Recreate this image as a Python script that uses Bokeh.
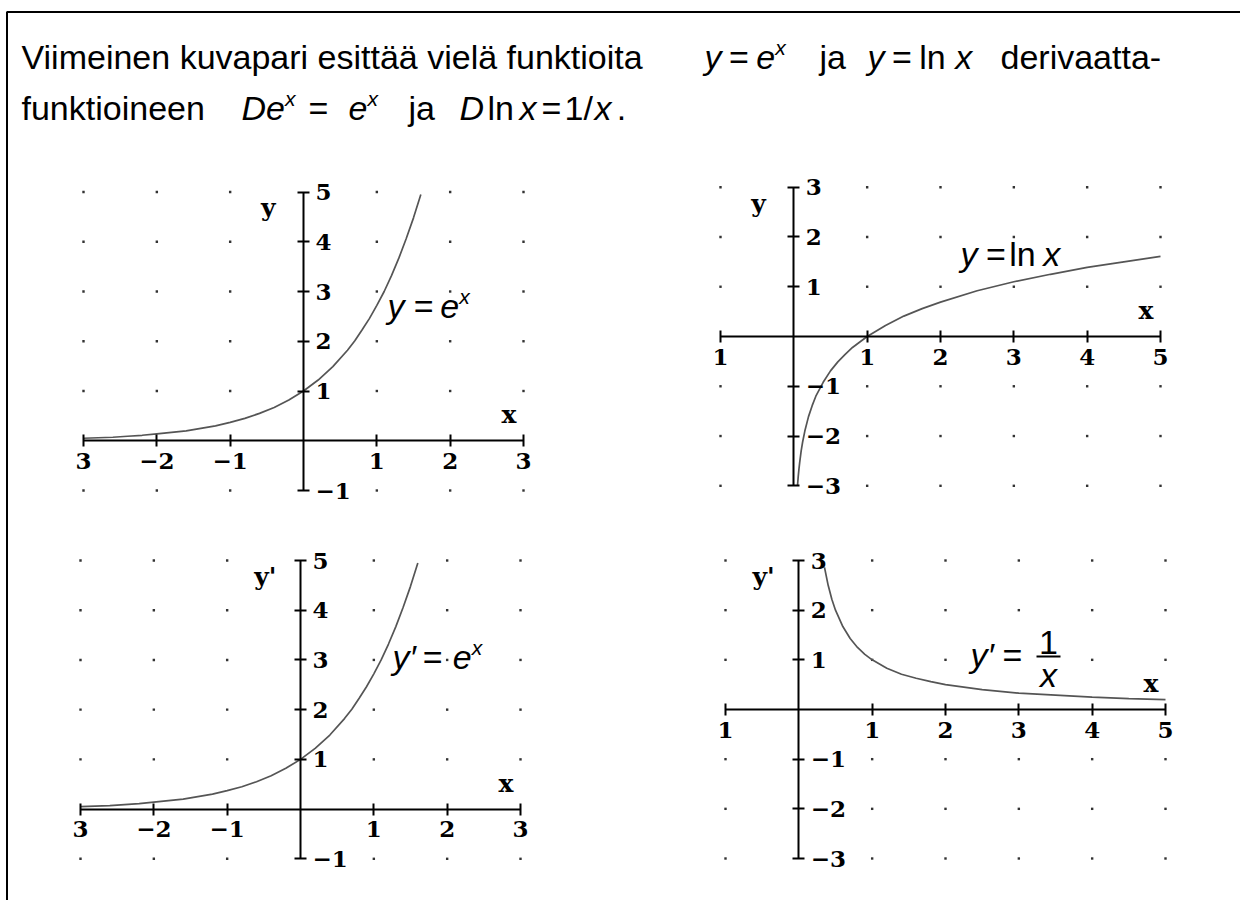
from bokeh.plotting import figure
from bokeh.models import Range1d, LinearAxis, FixedTicker, BoxAnnotation, Label
from bokeh.embed import file_html
from bokeh.resources import INLINE
from bokeh.core.properties import value

# ---------------- data ----------------
exp_x = [-3.0, -2.8, -2.6, -2.4, -2.2, -2.0, -1.8, -1.6, -1.4, -1.2, -1.0, -0.8,
         -0.6, -0.4, -0.2, 0.0, 0.2, 0.4, 0.6, 0.7, 0.8, 0.9, 1.0, 1.1, 1.2,
         1.3, 1.4, 1.5, 1.6]
exp_y = [0.05, 0.06, 0.07, 0.09, 0.11, 0.14, 0.17, 0.20, 0.25, 0.30, 0.37, 0.45,
         0.55, 0.67, 0.82, 1.00, 1.22, 1.49, 1.82, 2.01, 2.23, 2.46, 2.72, 3.00,
         3.32, 3.67, 4.06, 4.48, 4.95]

ln_x = [0.05, 0.06, 0.07, 0.08, 0.10, 0.12, 0.15, 0.20, 0.25, 0.30, 0.40, 0.50,
        0.60, 0.70, 0.80, 0.90, 1.00, 1.25, 1.50, 1.75, 2.00, 2.50, 3.00, 3.50,
        4.00, 4.50, 5.00]
ln_y = [-3.00, -2.81, -2.66, -2.53, -2.30, -2.12, -1.90, -1.61, -1.39, -1.20,
        -0.92, -0.69, -0.51, -0.36, -0.22, -0.11, 0.00, 0.22, 0.41, 0.56, 0.69,
        0.92, 1.10, 1.25, 1.39, 1.50, 1.61]

inv_x = [0.35, 0.40, 0.45, 0.50, 0.60, 0.70, 0.80, 0.90, 1.00, 1.20, 1.40, 1.60,
         1.80, 2.00, 2.50, 3.00, 3.50, 4.00, 4.50, 5.00]
inv_y = [2.86, 2.50, 2.22, 2.00, 1.67, 1.43, 1.25, 1.11, 1.00, 0.83, 0.71, 0.63,
         0.56, 0.50, 0.40, 0.33, 0.29, 0.25, 0.22, 0.20]

left_xticks = [-3, -2, -1, 1, 2, 3]
left_xlabels = ["3", "\u22122", "\u22121", "1", "2", "3"]
left_yticks = [-1, 1, 2, 3, 4, 5]
left_ylabels = ["\u22121", "1", "2", "3", "4", "5"]
right_xticks = [-1, 1, 2, 3, 4, 5]
right_xlabels = ["1", "1", "2", "3", "4", "5"]
right_yticks = [-3, -2, -1, 1, 2, 3]
right_ylabels = ["\u22123", "\u22122", "\u22121", "1", "2", "3"]

# ---------------- layout ----------------
W, H = 1240, 900

p = figure(width=W, height=H, x_range=Range1d(0, W), y_range=Range1d(H, 0),
           x_axis_type=None, y_axis_type=None, min_border=0,
           outline_line_color=None, toolbar_location=None, output_backend="svg",
           background_fill_color="white", border_fill_color="white")

# page frame (top and left rule)
p.add_layout(BoxAnnotation(left=6.5, right=W + 40, top=11.5, bottom=H + 40,
                           fill_color=None, fill_alpha=0, line_color="black",
                           line_alpha=1, line_width=2))


def x_range_for(v0, r0, v1, r1):
    k = (r1 - r0) / (v1 - v0)
    s = v0 - r0 / k
    return Range1d(s, s + W / k)


def y_range_for(v0, r0, v1, r1):
    b0, b1 = H - r0, H - r1
    k = (b1 - b0) / (v1 - v0)
    s = v0 - b0 / k
    return Range1d(s, s + H / k)


panels = [
    dict(name="tl", xmap=(-3, 83, 3, 523), ymap=(5, 191.5, -1, 490),
         xb=(-3, 3), yb=(-1, 5), xt=left_xticks, xl=left_xlabels,
         yt=left_yticks, yl=left_ylabels, cx=exp_x, cy=exp_y, yname="y"),
    dict(name="tr", xmap=(-1, 720, 5, 1160), ymap=(3, 186.7, -3, 485.3),
         xb=(-1, 5), yb=(-3, 3), xt=right_xticks, xl=right_xlabels,
         yt=right_yticks, yl=right_ylabels, cx=ln_x, cy=ln_y, yname="y"),
    dict(name="bl", xmap=(-3, 80, 3, 520), ymap=(5, 560, -1, 858.3),
         xb=(-3, 3), yb=(-1, 5), xt=left_xticks, xl=left_xlabels,
         yt=left_yticks, yl=left_ylabels, cx=exp_x, cy=exp_y, yname="y'"),
    dict(name="br", xmap=(-1, 725, 5, 1165), ymap=(3, 560, -3, 858),
         xb=(-1, 5), yb=(-3, 3), xt=right_xticks, xl=right_xlabels,
         yt=right_yticks, yl=right_ylabels, cx=inv_x, cy=inv_y, yname="y'"),
]

TICK_FONT = "DejaVu Serif"
for pn in panels:
    xr, yr = pn["name"] + "x", pn["name"] + "y"
    p.extra_x_ranges[xr] = x_range_for(*pn["xmap"])
    p.extra_y_ranges[yr] = y_range_for(*pn["ymap"])

    # dotted grid
    gx, gy = [], []
    for xv in range(pn["xb"][0], pn["xb"][1] + 1):
        for yv in range(pn["yb"][0], pn["yb"][1] + 1):
            if xv != 0 and yv != 0:
                gx.append(xv)
                gy.append(yv)
    p.scatter(gx, gy, marker="square", size=2.4, fill_color="#333333",
              line_color=None, x_range_name=xr, y_range_name=yr)

    # axes crossing at the origin
    for dim in ("x", "y"):
        ticks = pn["xt"] if dim == "x" else pn["yt"]
        labels = pn["xl"] if dim == "x" else pn["yl"]
        ax = LinearAxis(x_range_name=xr, y_range_name=yr, fixed_location=0,
                        bounds=pn["xb"] if dim == "x" else pn["yb"],
                        ticker=FixedTicker(ticks=ticks, minor_ticks=[]),
                        major_label_overrides={t: l for t, l in zip(ticks, labels)},
                        axis_line_width=2, axis_line_color="black",
                        major_tick_line_width=2, major_tick_line_color="black",
                        major_tick_in=6, major_tick_out=6,
                        minor_tick_line_color=None,
                        major_label_text_font=TICK_FONT,
                        major_label_text_font_style="bold",
                        major_label_text_font_size="23px",
                        major_label_text_color="black",
                        major_label_standoff=6)
        p.add_layout(ax, "below" if dim == "x" else "right")

    # curve
    p.line(pn["cx"], pn["cy"], line_color="#555555", line_width=1.7,
           x_range_name=xr, y_range_name=yr)

    # axis names
    xmax, ymax = pn["xb"][1], pn["yb"][1]
    p.text(x=[-0.48, xmax - 0.2], y=[ymax - 0.32, 0.52], text=[pn["yname"], "x"],
           text_font=value(TICK_FONT), text_font_style="bold",
           text_font_size="25px", text_color="black",
           text_align="center", text_baseline="middle",
           x_range_name=xr, y_range_name=yr)

# ---------------- math-style text ----------------
CW = {' ': 278, 'a': 556, 'd': 556, 'e': 556, 'f': 278, 'i': 222, 'j': 222,
      'k': 500, 'l': 222, 'm': 833, 'n': 556, 'o': 556, 'p': 556, 'r': 333,
      's': 500, 't': 278, 'u': 556, 'v': 500, 'x': 500, 'y': 500, '\u00e4': 556,
      'V': 667, 'D': 722, '=': 584, '1': 556, '/': 278, '.': 278, '-': 333,
      '\u2032': 191}
FS = 34
BASE_FIX = 0.33  # baseline correction (fraction of font size)


def text_width(s, size):
    return sum(CW.get(c, 556) for c in s) * size / 1000.0


def compose(x, y, pieces, size=FS, align="left"):
    for text, kind, gap in pieces:
        x += gap * size
        fs = size * 0.62 if kind == "s" else size
        yy = y - size * 0.42 if kind == "s" else y
        p.add_layout(Label(x=x, y=yy - BASE_FIX * fs, text=text,
                           text_font="Liberation Sans",
                           text_font_size="%.1fpx" % fs,
                           text_font_style="italic" if kind in ("i", "s") else "normal",
                           text_baseline="alphabetic", text_align=align,
                           text_color="black"))
        x += text_width(text, fs)
    return x


# heading, line 1
L1, L2 = 68, 119
compose(21, L1, [("Viimeinen kuvapari esitt\u00e4\u00e4 viel\u00e4 funktioita", "n", 0)])
compose(704, L1, [("y", "i", 0), ("=", "n", 0.22), ("e", "i", 0.22), ("x", "s", 0)])
compose(819, L1, [("ja", "n", 0)])
compose(867, L1, [("y", "i", 0), ("=", "n", 0.22), ("ln", "n", 0.22), ("x", "i", 0.28)])
compose(1000, L1, [("derivaatta-", "n", 0)])
# heading, line 2
compose(21, L2, [("funktioineen", "n", 0)])
compose(241, L2, [("D", "i", 0), ("e", "i", 0), ("x", "s", 0)])
compose(308, L2, [("=", "n", 0)])
compose(348, L2, [("e", "i", 0), ("x", "s", 0)])
compose(408, L2, [("ja", "n", 0)])
compose(459, L2, [("D", "i", 0), ("ln", "n", 0.1)])
compose(519, L2, [("x", "i", 0)])
compose(541, L2, [("=", "n", 0)])
compose(564, L2, [("1", "n", 0), ("/", "n", 0), ("x", "i", 0.05), (".", "n", 0.15)])

# function labels inside the panels
compose(387, 317, [("y", "i", 0), ("=", "n", 0.27), ("e", "i", 0.2), ("x", "s", 0)])
compose(960, 265, [("y", "i", 0), ("=", "n", 0.25), ("ln", "n", 0.1), ("x", "i", 0.22)])
compose(392, 668, [("y\u2032", "i", 0), ("=", "n", 0.2), ("e", "i", 0.3), ("x", "s", 0)])
compose(970, 666, [("y\u2032", "i", 0), ("=", "n", 0.25)])
compose(1048, 653, [("1", "n", 0)], align="center")
compose(1048, 686, [("x", "i", 0)], align="center")
p.add_layout(BoxAnnotation(left=1036, right=1060, top=655, bottom=657,
                           fill_color="black", fill_alpha=1, line_color=None))

open("out.html", "w").write(file_html(p, INLINE))
